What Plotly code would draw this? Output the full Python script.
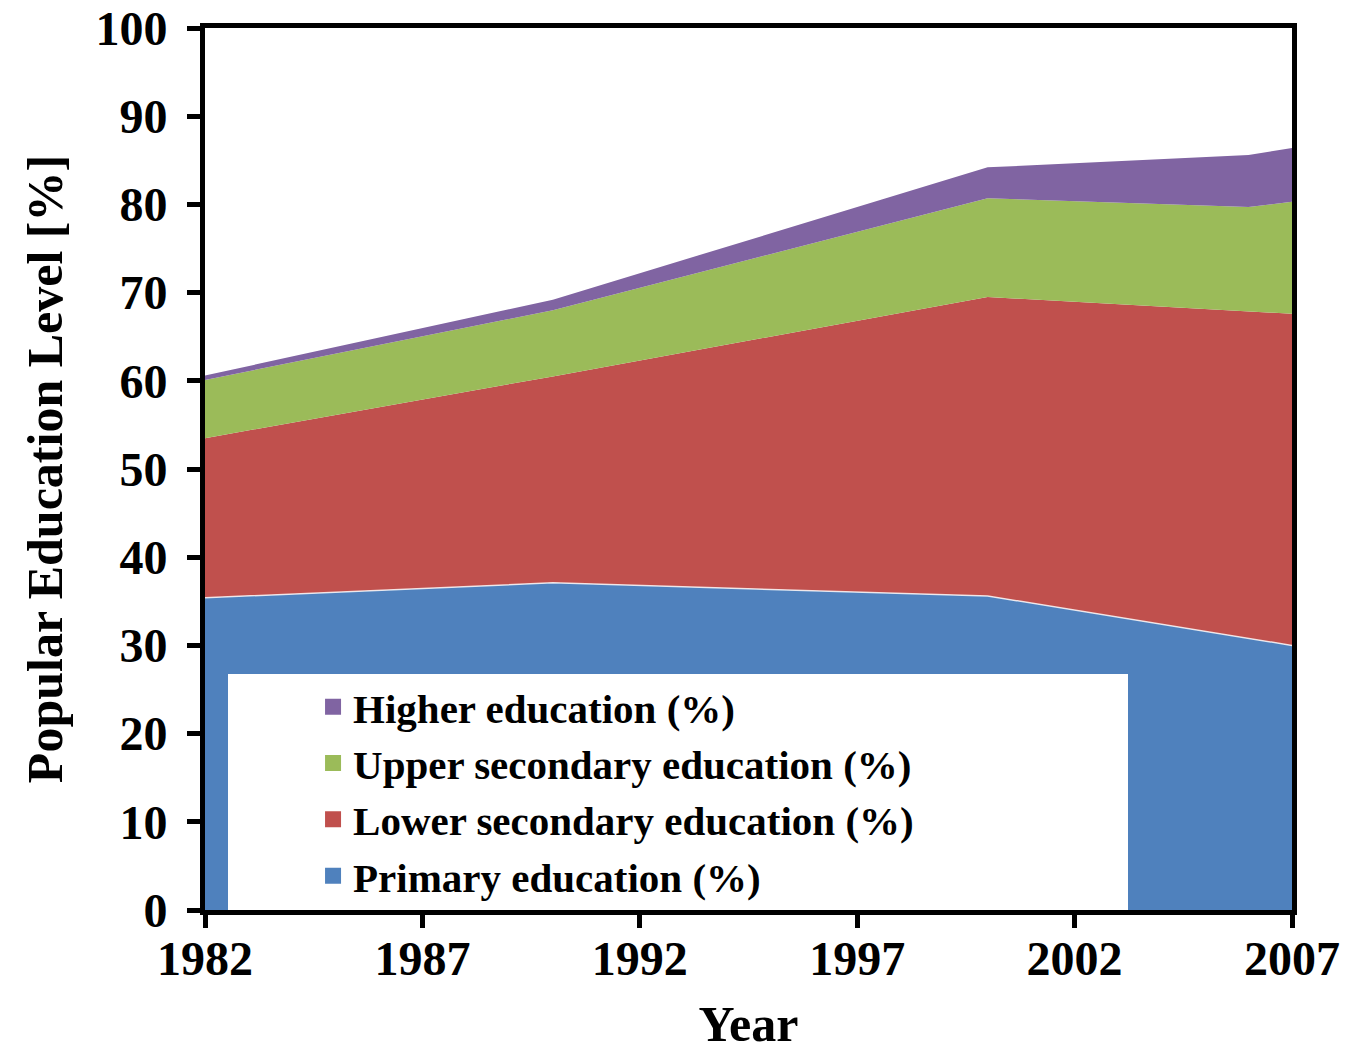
import plotly.graph_objects as go

years = [1982, 1990, 2000, 2006, 2007]
primary = [35.4, 37.1, 35.6, 30.8, 30.0]
lower_secondary = [18.1, 23.4, 33.9, 37.0, 37.6]
upper_secondary = [6.6, 7.5, 11.2, 11.9, 12.7]
higher = [0.5, 1.2, 3.5, 5.9, 6.1]

series = [
    ("Primary education (%)", primary, "#4F81BD", 1.5, "rgba(255,255,255,0.8)"),
    ("Lower secondary education (%)", lower_secondary, "#C0504D", 0, "#C0504D"),
    ("Upper secondary education (%)", upper_secondary, "#9BBB59", 0, "#9BBB59"),
    ("Higher education (%)", higher, "#8064A2", 0, "#8064A2"),
]

FONT = "Liberation Serif"

fig = go.Figure()
for name, vals, col, lw, lc in series:
    fig.add_trace(go.Scatter(
        x=years, y=vals, name=name, mode="lines",
        stackgroup="one", fillcolor=col,
        line=dict(width=lw, color=lc),
        showlegend=False, legendgroup=name,
    ))
# legend entries with square swatches
for name, vals, col, lw, lc in series:
    fig.add_trace(go.Scatter(
        x=[None], y=[None], name=name, mode="markers",
        marker=dict(symbol="square", size=16, color=col),
        showlegend=True, legendgroup=name,
    ))

axis_common = dict(
    showline=True, linecolor="black", linewidth=5, mirror=True,
    ticks="outside", ticklen=13, tickwidth=5, tickcolor="black",
    showgrid=False, zeroline=False, automargin=False,
    tickfont=dict(family=FONT, size=48, color="black", weight="bold"),
)

fig.update_layout(
    width=1348, height=1052,
    margin=dict(l=205, r=56, t=28, b=142),
    plot_bgcolor="white", paper_bgcolor="white",
    showlegend=True,
    legend=dict(
        orientation="h",
        x=0.0212, y=0.268, xanchor="left", yanchor="top",
        bgcolor="white", borderwidth=0,
        traceorder="reversed",
        font=dict(family=FONT, size=41, color="black", weight="bold"),
        indentation=85,
        entrywidth=770,
        itemwidth=30,
    ),
    xaxis=dict(range=[1982, 2007], tickmode="array",
               tickvals=[1982, 1987, 1992, 1997, 2002, 2007],
               ticktext=["1982", "1987", "1992", "1997", "2002", "2007"],
               ticklabelstandoff=-11,
               title=dict(text="Year", font=dict(family=FONT, size=50, color="black", weight="bold"), standoff=25),
               **axis_common),
    yaxis=dict(range=[0, 100], dtick=10, ticklabelstandoff=10,
               title=dict(text="Popular Education Level [%]", font=dict(family=FONT, size=50, color="black", weight="bold"), standoff=18),
               **axis_common),
)

fig.write_html("out.html", config={"displayModeBar": False},
               post_script="document.body.style.margin='0px';")
